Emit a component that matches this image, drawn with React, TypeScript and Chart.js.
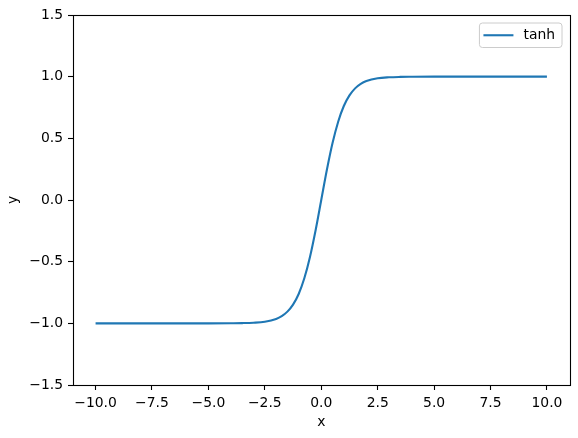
import React, { useEffect, useRef } from "react";
import { Chart, registerables } from "chart.js";

Chart.register(...registerables);

const seriesLabel = "tanh";
const xValues = [-10, -5, -4, -3.5, -3, -2.5, -2, -1.75, -1.5, -1.25, -1, -0.75, -0.5, -0.25, 0, 0.25, 0.5, 0.75, 1, 1.25, 1.5, 1.75, 2, 2.5, 3, 3.5, 4, 5, 10];
const yValues = [-1.0, -1.0, -0.999, -0.998, -0.995, -0.987, -0.964, -0.941, -0.905, -0.848, -0.762, -0.635, -0.462, -0.245, 0.0, 0.245, 0.462, 0.635, 0.762, 0.848, 0.905, 0.941, 0.964, 0.987, 0.995, 0.998, 0.999, 1.0, 1.0];
const xTicks = [-10, -7.5, -5, -2.5, 0, 2.5, 5, 7.5, 10];
const yTicks = [-1.5, -1.0, -0.5, 0.0, 0.5, 1.0, 1.5];
const xTitle = "x";
const yTitle = "y";

const FONT = "'DejaVu Sans', sans-serif";
const FS = 13.9;

const fmt = (v: number) => (v < 0 ? "\u2212" : "") + Math.abs(v).toFixed(1);

const framePlugin = {
  id: "frame",
  afterDatasetsDraw(chart: any) {
    const { ctx, chartArea: a } = chart;
    ctx.save();
    ctx.strokeStyle = "#000";
    ctx.lineWidth = 1.1;
    ctx.strokeRect(Math.round(a.left) + 0.5, Math.round(a.top) + 0.5, Math.round(a.right - a.left), Math.round(a.bottom - a.top));
    ctx.restore();
  },
};

const legendPlugin = {
  id: "mplLegend",
  afterDraw(chart: any) {
    const { ctx, chartArea: a } = chart;
    const ds = chart.data.datasets[0];
    ctx.save();
    ctx.font = `${FS}px ${FONT}`;
    const tw = ctx.measureText(ds.label).width;
    const w = 44 + tw + 7;
    const h = 24.5;
    const x = a.right - 7.5 - w;
    const y = a.top + 8;
    const r = 3;
    ctx.beginPath();
    ctx.moveTo(x + r, y);
    ctx.lineTo(x + w - r, y);
    ctx.quadraticCurveTo(x + w, y, x + w, y + r);
    ctx.lineTo(x + w, y + h - r);
    ctx.quadraticCurveTo(x + w, y + h, x + w - r, y + h);
    ctx.lineTo(x + r, y + h);
    ctx.quadraticCurveTo(x, y + h, x, y + h - r);
    ctx.lineTo(x, y + r);
    ctx.quadraticCurveTo(x, y, x + r, y);
    ctx.closePath();
    ctx.fillStyle = "rgba(255,255,255,0.8)";
    ctx.fill();
    ctx.strokeStyle = "#cccccc";
    ctx.lineWidth = 1;
    ctx.stroke();
    const cy = y + h / 2;
    ctx.beginPath();
    ctx.moveTo(x + 4, cy);
    ctx.lineTo(x + 34, cy);
    ctx.strokeStyle = ds.borderColor;
    ctx.lineWidth = 2.1;
    ctx.stroke();
    ctx.fillStyle = "#000";
    ctx.textBaseline = "middle";
    ctx.textAlign = "left";
    ctx.fillText(ds.label, x + 44, cy);
    ctx.restore();
  },
};

export default function App() {
  const ref = useRef<HTMLCanvasElement>(null);
  useEffect(() => {
    const chart = new Chart(ref.current!, {
      type: "scatter",
      data: {
        datasets: [
          {
            label: seriesLabel,
            data: xValues.map((x, i) => ({ x, y: yValues[i] })),
            showLine: true,
            borderColor: "#1f77b4",
            backgroundColor: "#1f77b4",
            borderWidth: 2.1,
            pointRadius: 0,
            cubicInterpolationMode: "monotone",
          } as any,
        ],
      },
      options: {
        animation: false,
        responsive: false,
        maintainAspectRatio: false,
        layout: { padding: { top: 15, right: 8.5, left: 0, bottom: 0 } },
        plugins: { legend: { display: false }, tooltip: { enabled: false } },
        scales: {
          x: {
            type: "linear",
            min: -11,
            max: 11,
            afterBuildTicks: (s: any) => {
              s.ticks = xTicks.map((v) => ({ value: v }));
            },
            afterFit: (s: any) => {
              s.height = 53;
            },
            ticks: {
              callback: (v: any) => fmt(Number(v)),
              color: "#000",
              font: { family: FONT, size: FS },
              padding: 5,
              maxRotation: 0,
              autoSkip: false,
            },
            grid: { drawOnChartArea: false, drawTicks: true, tickLength: 5, tickColor: "#000", tickWidth: 1.1 },
            border: { display: false },
            title: { display: true, text: xTitle, color: "#000", font: { family: FONT, size: FS }, padding: { top: 0, bottom: 7 } },
          },
          y: {
            type: "linear",
            min: -1.5,
            max: 1.5,
            afterBuildTicks: (s: any) => {
              s.ticks = yTicks.map((v) => ({ value: v }));
            },
            afterFit: (s: any) => {
              s.width = 73;
            },
            ticks: {
              callback: (v: any) => fmt(Number(v)),
              color: "#000",
              font: { family: FONT, size: FS },
              padding: 5,
              autoSkip: false,
            },
            grid: { drawOnChartArea: false, drawTicks: true, tickLength: 5, tickColor: "#000", tickWidth: 1.1 },
            border: { display: false },
            title: { display: true, text: yTitle, color: "#000", font: { family: FONT, size: FS }, padding: { top: 5.5, bottom: 0 } },
          },
        },
      },
      plugins: [framePlugin, legendPlugin],
    });
    return () => chart.destroy();
  }, []);
  return (
    <div style={{ position: "absolute", left: 0, top: 0, width: 578, height: 438, background: "#fff" }}>
      <canvas ref={ref} width={578} height={438} style={{ width: 578, height: 438 }} />
    </div>
  );
}
